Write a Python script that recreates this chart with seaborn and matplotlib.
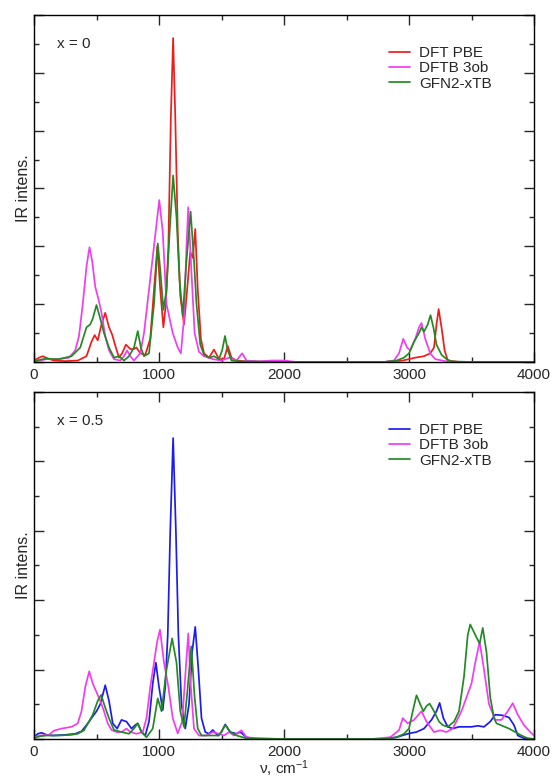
import numpy as np
import pandas as pd
import seaborn as sns
import matplotlib.pyplot as plt
from matplotlib.ticker import MultipleLocator

# ---- data (wavenumber, cm-1 / intensity, arb. units)
# x = 0 panel
x0_pbe_nu = [0, 40, 70, 110, 160, 250, 350, 420, 460, 485, 510, 540, 570, 600, 625, 655, 680,
             705, 735, 770, 800, 820, 850, 890, 930, 960, 987, 1010, 1035, 1055, 1075, 1095,
             1113, 1130, 1150, 1170, 1200, 1225, 1250, 1270, 1290, 1310, 1335, 1360, 1400,
             1440, 1480, 1520, 1550, 1580, 1620, 1700, 2000, 2800, 2950, 3050, 3120, 3170,
             3200, 3220, 3237, 3260, 3285, 3310, 3400, 4000]
x0_pbe_int = [0.05, 0.15, 0.2, 0.12, 0.05, 0.03, 0.05, 0.2, 0.7, 0.93, 0.75, 1.3, 1.7, 1.2, 0.95,
              0.5, 0.15, 0.3, 0.6, 0.45, 0.45, 0.5, 0.3, 0.25, 0.8, 2.5, 4.0, 2.5, 1.2, 2.0, 4.0,
              8.5, 11.2, 8.5, 4.5, 2.3, 1.3, 2.5, 3.8, 3.6, 4.6, 2.5, 0.8, 0.3, 0.15, 0.43, 0.1,
              0.1, 0.55, 0.15, 0.05, 0.02, 0.0, 0.0, 0.05, 0.15, 0.2, 0.3, 0.5, 1.3, 1.83, 1.2,
              0.4, 0.05, 0.0, 0.0]

x0_dftb_nu = [0, 50, 100, 200, 280, 330, 360, 390, 420, 444, 465, 490, 520, 540, 570, 600, 640,
              690, 720, 745, 770, 800, 850, 880, 920, 965, 1002, 1030, 1060, 1110, 1150, 1175,
              1200, 1220, 1234, 1255, 1285, 1320, 1360, 1430, 1500, 1560, 1620, 1665, 1700,
              1800, 1900, 2000, 2100, 2800, 2880, 2920, 2954, 2985, 3010, 3050, 3080, 3100,
              3130, 3170, 3210, 3300, 3400, 4000]
x0_dftb_int = [0.02, 0.05, 0.1, 0.1, 0.15, 0.4, 0.9, 2.0, 3.3, 3.97, 3.5, 2.6, 2.1, 1.7, 0.9,
               0.4, 0.1, 0.05, 0.2, 0.4, 0.2, 0.05, 0.3, 1.0, 2.5, 4.2, 5.6, 4.5, 2.0, 1.0, 0.5,
               0.3, 1.5, 4.0, 5.35, 3.5, 1.0, 0.35, 0.2, 0.1, 0.05, 0.15, 0.05, 0.3, 0.05, 0.02,
               0.05, 0.05, 0.0, 0.0, 0.05, 0.3, 0.8, 0.5, 0.4, 0.8, 1.2, 1.35, 0.8, 0.3, 0.1,
               0.02, 0.0, 0.0]

x0_xtb_nu = [0, 50, 100, 150, 200, 300, 370, 420, 450, 470, 500, 530, 560, 600, 640, 680, 720,
             760, 800, 830, 855, 880, 920, 960, 990, 1010, 1035, 1060, 1085, 1113, 1140, 1165,
             1190, 1220, 1253, 1280, 1300, 1330, 1360, 1400, 1440, 1480, 1505, 1528, 1550,
             1580, 1650, 2000, 2800, 2900, 2960, 3000, 3040, 3080, 3100, 3120, 3150, 3172,
             3195, 3220, 3260, 3300, 3340, 3500, 4000]
x0_xtb_int = [0.02, 0.08, 0.12, 0.1, 0.1, 0.2, 0.5, 1.2, 1.3, 1.5, 1.97, 1.5, 1.0, 0.5, 0.15,
              0.2, 0.05, 0.2, 0.5, 1.07, 0.5, 0.2, 0.3, 2.0, 4.1, 3.2, 1.8, 2.5, 4.5, 6.45, 5.0,
              2.8, 1.6, 3.5, 5.2, 3.5, 2.0, 0.6, 0.25, 0.15, 0.2, 0.1, 0.4, 0.9, 0.4, 0.05,
              0.02, 0.0, 0.0, 0.05, 0.15, 0.3, 0.7, 1.0, 1.2, 1.05, 1.3, 1.62, 1.2, 0.6, 0.25,
              0.1, 0.02, 0.0, 0.0]

# x = 0.5 panel
x5_pbe_nu = [0, 30, 60, 100, 150, 250, 330, 380, 420, 460, 500, 530, 570, 600, 630, 665, 700,
             740, 780, 810, 830, 860, 890, 920, 950, 975, 1000, 1030, 1050, 1070, 1090, 1113,
             1135, 1155, 1180, 1210, 1240, 1265, 1290, 1315, 1340, 1370, 1400, 1430, 1470,
             1500, 1530, 1570, 1620, 1650, 1700, 1750, 2000, 2800, 2900, 3000, 3060, 3120,
             3180, 3220, 3245, 3275, 3310, 3350, 3400, 3450, 3500, 3550, 3600, 3650, 3690,
             3750, 3800, 3840, 3870, 3920, 4000]
x5_pbe_int = [0.05, 0.15, 0.18, 0.12, 0.1, 0.12, 0.15, 0.22, 0.4, 0.6, 0.8, 1.0, 1.55, 1.1,
              0.45, 0.3, 0.55, 0.5, 0.3, 0.4, 0.45, 0.2, 0.1, 0.5, 1.6, 2.2, 1.5, 0.83, 1.5,
              3.0, 6.0, 8.67, 6.0, 3.0, 1.0, 0.3, 1.0, 2.5, 3.23, 2.0, 0.6, 0.2, 0.15, 0.26,
              0.1, 0.2, 0.42, 0.2, 0.15, 0.2, 0.05, 0.01, 0.0, 0.0, 0.05, 0.16, 0.2, 0.3, 0.55,
              0.8, 1.04, 0.6, 0.35, 0.3, 0.35, 0.35, 0.35, 0.38, 0.35, 0.5, 0.7, 0.68, 0.62,
              0.4, 0.1, 0.02, 0.0]

x5_dftb_nu = [0, 50, 120, 160, 220, 300, 350, 380, 410, 442, 470, 500, 530, 560, 590, 620, 660,
              700, 740, 770, 820, 870, 900, 930, 960, 985, 1008, 1040, 1075, 1110, 1150, 1185,
              1210, 1234, 1255, 1280, 1320, 1380, 1430, 1480, 1520, 1560, 1600, 1660, 1700,
              1800, 2000, 2700, 2850, 2920, 2950, 2990, 3040, 3100, 3140, 3200, 3250, 3300,
              3350, 3420, 3470, 3500, 3530, 3565, 3600, 3640, 3690, 3740, 3790, 3830, 3870,
              3920, 3970, 4000]
x5_dftb_int = [0.05, 0.1, 0.12, 0.24, 0.3, 0.35, 0.45, 0.8, 1.5, 1.95, 1.6, 1.35, 1.1, 0.8,
               0.45, 0.26, 0.2, 0.2, 0.3, 0.2, 0.15, 0.2, 0.6, 1.5, 2.2, 2.8, 3.15, 2.2, 1.5,
               0.6, 0.16, 0.5, 1.8, 3.04, 1.5, 0.3, 0.1, 0.1, 0.2, 0.15, 0.1, 0.2, 0.1, 0.25,
               0.05, 0.01, 0.0, 0.0, 0.05, 0.25, 0.6, 0.45, 0.55, 0.8, 0.5, 0.2, 0.25, 0.2, 0.3,
               0.8, 1.3, 1.6, 2.2, 2.8, 2.0, 1.0, 0.55, 0.55, 0.8, 1.03, 0.7, 0.4, 0.2, 0.1]

x5_xtb_nu = [0, 50, 100, 200, 300, 350, 400, 440, 470, 510, 537, 570, 600, 640, 700, 760, 800,
             830, 860, 900, 950, 990, 1020, 1060, 1105, 1140, 1170, 1200, 1230, 1258, 1285,
             1310, 1340, 1430, 1480, 1505, 1530, 1570, 1620, 1700, 2000, 2800, 2900, 2960,
             3000, 3030, 3060, 3090, 3115, 3140, 3165, 3200, 3240, 3270, 3310, 3360, 3400,
             3440, 3470, 3490, 3530, 3565, 3590, 3620, 3650, 3680, 3700, 3800, 3850, 3900,
             3950, 4000]
x5_xtb_int = [0.02, 0.08, 0.1, 0.1, 0.12, 0.15, 0.25, 0.5, 0.7, 1.1, 1.27, 0.9, 0.6, 0.26, 0.2,
              0.15, 0.3, 0.45, 0.2, 0.05, 0.3, 1.17, 0.8, 2.0, 2.9, 2.2, 0.8, 0.35, 1.5, 2.67,
              1.2, 0.3, 0.1, 0.1, 0.1, 0.25, 0.4, 0.2, 0.1, 0.02, 0.0, 0.0, 0.05, 0.15, 0.3,
              0.8, 1.26, 1.0, 0.8, 0.95, 1.02, 0.8, 0.5, 0.4, 0.35, 0.5, 0.8, 1.8, 3.0, 3.3,
              3.0, 2.75, 3.2, 2.5, 1.2, 0.6, 0.45, 0.3, 0.2, 0.1, 0.02, 0.0]

methods = ['DFT PBE', 'DFTB 3ob', 'GFN2-xTB']


def to_long(series):
    rows = []
    for name, (nu, inten) in zip(methods, series):
        rows.append(pd.DataFrame({'nu': nu, 'intens': inten, 'method': name}))
    return pd.concat(rows, ignore_index=True)


df0 = to_long([(x0_pbe_nu, x0_pbe_int), (x0_dftb_nu, x0_dftb_int), (x0_xtb_nu, x0_xtb_int)])
df5 = to_long([(x5_pbe_nu, x5_pbe_int), (x5_dftb_nu, x5_dftb_int), (x5_xtb_nu, x5_xtb_int)])

# ---- style
sns.set_style('ticks')
plt.rcParams['font.family'] = ['Liberation Sans', 'DejaVu Sans']
plt.rcParams['mathtext.fontset'] = 'custom'
plt.rcParams['mathtext.rm'] = 'Liberation Sans'
plt.rcParams['mathtext.it'] = 'Liberation Sans:italic'
FS = 11

pal0 = {'DFT PBE': '#f01c1c', 'DFTB 3ob': '#f23cf2', 'GFN2-xTB': '#238a23'}
pal5 = {'DFT PBE': '#1c1cf0', 'DFTB 3ob': '#f23cf2', 'GFN2-xTB': '#238a23'}

fig = plt.figure(figsize=(5.52, 7.81), dpi=100)
ax0 = fig.add_axes([0.0616, 0.5365, 0.9058, 0.4443])
ax5 = fig.add_axes([0.0616, 0.0538, 0.9058, 0.4443])

panels = [(ax0, df0, pal0, 12, 'x = 0'), (ax5, df5, pal5, 10, 'x = 0.5')]
for ax, df, pal, ymax, tag in panels:
    sns.lineplot(data=df, x='nu', y='intens', hue='method', palette=pal,
                 hue_order=methods, estimator=None, sort=False, lw=1.25, ax=ax)
    ax.set_xlim(0, 4000)
    ax.set_ylim(0, ymax)
    ax.xaxis.set_major_locator(MultipleLocator(1000))
    ax.xaxis.set_minor_locator(MultipleLocator(500))
    ax.yaxis.set_major_locator(MultipleLocator(2))
    ax.yaxis.set_minor_locator(MultipleLocator(1))
    ax.tick_params(which='both', direction='in', top=True, right=True, width=1.0,
                   labelsize=FS, pad=4)
    ax.tick_params(which='major', length=7)
    ax.tick_params(which='minor', length=3.5)
    ax.set_yticklabels([])
    for s in ax.spines.values():
        s.set_linewidth(1.0)
        s.set_color('black')
    ax.set_ylabel('IR intens.', fontsize=11.5, labelpad=-2)
    ax.set_xlabel('')
    ax.text(0.045, 0.915, tag, transform=ax.transAxes, fontsize=FS, va='center', ha='left')
    handles, labels = ax.get_legend_handles_labels()
    ax.legend(handles, labels, loc='upper left', bbox_to_anchor=(0.709, 0.91),
              frameon=False, fontsize=FS, handlelength=1.4, handletextpad=0.6,
              labelspacing=0.08, borderpad=0, borderaxespad=0)

ax5.set_xlabel('ν, cm$^{-1}$', fontsize=FS, labelpad=0)

fig.savefig('out.png', dpi=100)
